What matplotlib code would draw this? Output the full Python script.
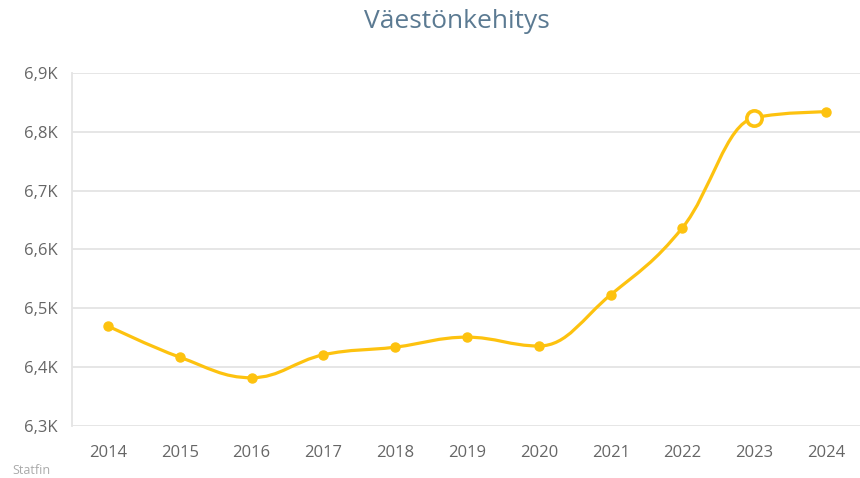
#!/usr/bin/env python3
"""Väestönkehitys line chart (Highcharts-style spline)."""

import matplotlib
matplotlib.use("Agg")
import matplotlib.pyplot as plt
from matplotlib.path import Path
from matplotlib.patches import PathPatch
from matplotlib.ticker import FuncFormatter

years = ["2014", "2015", "2016", "2017", "2018", "2019",
         "2020", "2021", "2022", "2023", "2024"]
population = [6470, 6417, 6382, 6421, 6434, 6451, 6436, 6523, 6637, 6824, 6834]
highlight_year = "2023"
y_ticks = [6300, 6400, 6500, 6600, 6700, 6800, 6900]

LINE = "#fdc20f"
GRID = "#e4e4e4"
TEXT = "#666666"

plt.rcParams["font.family"] = ["Open Sans", "DejaVu Sans"]


def spline_path(xs, ys, smoothing=1.5):
    """Cubic bezier path using the Highcharts spline control-point rule."""
    denom = smoothing + 1
    n = len(xs)
    left = [(xs[i], ys[i]) for i in range(n)]
    right = [(xs[i], ys[i]) for i in range(n)]
    for i in range(1, n - 1):
        x, y = xs[i], ys[i]
        lx, ly, nx, ny = xs[i - 1], ys[i - 1], xs[i + 1], ys[i + 1]
        lcx = (smoothing * x + lx) / denom
        lcy = (smoothing * y + ly) / denom
        rcx = (smoothing * x + nx) / denom
        rcy = (smoothing * y + ny) / denom
        corr = 0.0
        if rcx != lcx:
            corr = (rcy - lcy) * (rcx - x) / (rcx - lcx) + y - rcy
        lcy += corr
        rcy += corr
        if lcy > ly and lcy > y:
            lcy = max(ly, y)
            rcy = 2 * y - lcy
        elif lcy < ly and lcy < y:
            lcy = min(ly, y)
            rcy = 2 * y - lcy
        if rcy > ny and rcy > y:
            rcy = max(ny, y)
            lcy = 2 * y - rcy
        elif rcy < ny and rcy < y:
            rcy = min(ny, y)
            lcy = 2 * y - rcy
        left[i] = (lcx, lcy)
        right[i] = (rcx, rcy)
    verts = [(xs[0], ys[0])]
    codes = [Path.MOVETO]
    for i in range(1, n):
        verts += [right[i - 1], left[i], (xs[i], ys[i])]
        codes += [Path.CURVE4] * 3
    return Path(verts, codes)


fig = plt.figure(figsize=(8.6, 4.78), dpi=100)
ax = fig.add_axes([72 / 860, 1 - 426 / 478, 790 / 860, 353 / 478])

x = list(range(len(years)))
ax.add_patch(PathPatch(spline_path(x, population), fill=False,
                       edgecolor=LINE, lw=2.3, capstyle="round",
                       joinstyle="round", zorder=3))
for xi, yr, val in zip(x, years, population):
    if yr == highlight_year:
        ax.plot(xi, val, "o", ms=11, mfc="white", mec=LINE, mew=2.6, zorder=5)
    else:
        ax.plot(xi, val, "o", ms=6.5, color=LINE, zorder=4)

ax.set_xlim(-0.5, len(years) - 0.5)
ax.set_ylim(y_ticks[0], y_ticks[-1])
ax.set_yticks(y_ticks)
ax.yaxis.set_major_formatter(
    FuncFormatter(lambda v, _: f"{v / 1000:.1f}K".replace(".", ",")))
ax.set_xticks(x, years)

ax.grid(True, axis="y", color=GRID, lw=1.3)
ax.set_axisbelow(True)
for side in ("top", "right", "bottom"):
    ax.spines[side].set_visible(False)
ax.spines["left"].set_color(GRID)
ax.spines["left"].set_linewidth(1.3)
ax.tick_params(axis="both", length=0, labelsize=12, labelcolor=TEXT)
ax.tick_params(axis="y", pad=10)
ax.tick_params(axis="x", pad=14)

fig.text(457 / 860, 1 - 22 / 478, "Väestönkehitys", ha="center", va="center",
         fontsize=19, color="#5b7a92")
fig.text(12 / 860, 1 - 471 / 478, "Statfin", ha="left", va="center",
         fontsize=9, color="#aaaaaa")

fig.savefig("out.png", dpi=100)
